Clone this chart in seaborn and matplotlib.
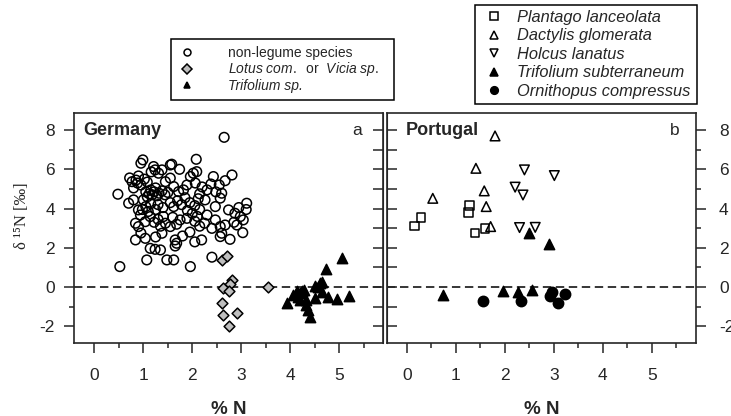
import pandas as pd
import matplotlib
matplotlib.use("Agg")
import matplotlib.pyplot as plt
from matplotlib.lines import Line2D
from matplotlib.ticker import MultipleLocator
import seaborn as sns

# ---- Germany (panel a) ----
de_other_x = [2.65, 0.48, 0.52, 0.95, 1.16, 0.72, 0.77, 0.90, 1.24, 1.55, 1.74, 1.96, 2.06,
              0.70, 0.80, 1.00, 0.90, 0.94, 0.84, 0.90, 1.04, 1.14, 1.41, 1.55, 1.75, 1.89,
              0.84, 1.04, 1.14, 1.24, 1.35, 1.38, 1.65, 1.68, 1.65, 1.07, 1.48, 1.62, 1.96,
              2.08, 1.58, 2.43, 2.67, 2.81, 0.99, 1.21, 1.31, 1.38, 2.02, 2.09, 2.60, 2.57,
              3.11, 2.47, 2.26, 2.74, 2.87, 2.98, 3.04, 1.89, 1.82, 1.62, 1.72, 1.45, 1.55,
              3.03, 2.77, 2.57, 2.60, 2.19, 2.40, 2.30, 2.47, 2.40, 2.57, 2.67, 2.91,
              1.08, 1.12, 1.18, 1.22, 1.28, 1.32, 1.38, 1.44, 1.50, 1.15, 1.05, 1.25,
              0.85, 0.88, 0.95, 1.02, 1.08, 0.80,
              1.55, 1.62, 1.70, 1.78, 1.85, 1.95, 2.05, 2.12, 1.90, 2.00, 2.15,
              1.05, 1.15, 1.25, 1.30, 1.40, 1.10, 0.98,
              1.22, 1.30, 1.45, 1.60, 1.68, 1.35,
              2.20, 2.30, 2.38, 2.15, 2.48, 2.55,
              2.05, 2.15, 2.25, 2.10,
              1.80, 1.95, 2.05, 0.95, 1.25,
              3.10, 2.95, 2.85]
de_other_y = [7.63, 4.73, 1.04, 6.31, 5.87, 5.56, 5.37, 5.66, 5.97, 6.22, 6.00, 5.63, 5.30,
              4.27, 4.44, 4.44, 3.93, 3.67, 3.25, 3.08, 3.33, 3.59, 3.59, 3.08, 3.42, 3.50,
              2.40, 2.48, 1.97, 1.92, 1.89, 2.74, 2.40, 2.23, 2.09, 1.38, 1.38, 1.38, 1.04,
              6.51, 6.26, 5.63, 5.42, 5.71, 6.48, 6.14, 5.80, 5.97, 5.80, 5.88, 4.78, 4.53,
              4.27, 4.10, 4.44, 3.93, 3.76, 3.59, 3.42, 5.20, 4.95, 5.12, 4.86, 5.37, 5.55,
              2.77, 2.43, 2.57, 2.74, 2.40, 1.52, 3.67, 3.42, 2.99, 3.08, 3.16, 3.16,
              4.60, 4.75, 4.70, 4.85, 4.65, 4.78, 4.90, 4.70, 4.82, 4.95, 4.85, 5.05,
              5.45, 5.30, 5.20, 5.50, 5.35, 5.05,
              4.30, 4.10, 4.40, 4.20, 4.55, 4.30, 4.15, 4.50, 3.90, 3.75, 3.95,
              4.10, 4.25, 3.95, 4.20, 4.05, 3.85, 3.95,
              3.30, 3.45, 3.25, 3.55, 3.20, 3.10,
              5.10, 4.95, 5.25, 4.75, 4.85, 5.20,
              3.35, 3.10, 3.25, 3.60,
              2.60, 2.80, 2.30, 2.75, 2.55,
              3.95, 4.05, 3.30]

de_lotus_x = [2.60, 2.70, 2.81, 2.77, 2.62, 2.74, 3.55, 2.60, 2.62, 2.92, 2.74]
de_lotus_y = [1.38, 1.58, 0.36, 0.15, -0.07, -0.19, 0.02, -0.83, -1.43, -1.31, -1.99]

de_trif_x = [5.05, 4.73, 4.61, 4.64, 4.50, 4.57, 4.13, 4.06, 4.23, 4.28, 3.94, 4.16, 4.20,
             4.32, 4.33, 4.37, 4.40, 4.50, 4.64, 4.77, 4.96, 5.20, 4.20]
de_trif_y = [1.46, 0.90, 0.19, 0.27, 0.05, -0.02, -0.19, -0.41, -0.19, -0.15, -0.80, -0.49, -0.66,
             -0.66, -0.92, -1.17, -1.51, -0.58, -0.24, -0.49, -0.63, -0.46, -0.32]

# ---- Portugal (panel b) ----
pt_plantago_x = [0.16, 0.29, 1.28, 1.26, 1.39, 1.60]
pt_plantago_y = [3.11, 3.54, 4.15, 3.79, 2.74, 2.99]
pt_dactylis_x = [1.80, 1.41, 0.53, 1.58, 1.62, 1.71]
pt_dactylis_y = [7.70, 6.05, 4.52, 4.90, 4.10, 3.08]
pt_holcus_x = [2.40, 3.01, 2.21, 2.37, 2.30, 2.62]
pt_holcus_y = [5.97, 5.68, 5.09, 4.69, 3.03, 3.04]
pt_trif_x = [2.50, 2.90, 0.73, 1.96, 2.26, 2.56]
pt_trif_y = [2.74, 2.18, -0.41, -0.20, -0.24, -0.15]
pt_orni_x = [1.55, 2.34, 2.96, 2.92, 3.08, 3.23]
pt_orni_y = [-0.71, -0.71, -0.24, -0.46, -0.80, -0.37]

de_labels = ["non-legume species", r"$\mathit{Lotus\ com.}$  or  $\mathit{Vicia\ sp.}$", "Trifolium sp."]
pt_labels = ["Plantago lanceolata", "Dactylis glomerata", "Holcus lanatus",
             "Trifolium subterraneum", "Ornithopus compressus"]

df_de = pd.concat([
    pd.DataFrame({"N": de_other_x, "d15N": de_other_y, "group": de_labels[0]}),
    pd.DataFrame({"N": de_lotus_x, "d15N": de_lotus_y, "group": de_labels[1]}),
    pd.DataFrame({"N": de_trif_x, "d15N": de_trif_y, "group": de_labels[2]}),
])
df_pt = pd.concat([
    pd.DataFrame({"N": pt_plantago_x, "d15N": pt_plantago_y, "group": pt_labels[0]}),
    pd.DataFrame({"N": pt_dactylis_x, "d15N": pt_dactylis_y, "group": pt_labels[1]}),
    pd.DataFrame({"N": pt_holcus_x, "d15N": pt_holcus_y, "group": pt_labels[2]}),
    pd.DataFrame({"N": pt_trif_x, "d15N": pt_trif_y, "group": pt_labels[3]}),
    pd.DataFrame({"N": pt_orni_x, "d15N": pt_orni_y, "group": pt_labels[4]}),
])

# marker, face colour, size
styles = {
    de_labels[0]: ("o", "none", 48),
    de_labels[1]: ("D", "#bebebe", 30),
    de_labels[2]: ("^", "black", 55),
    pt_labels[0]: ("s", "none", 36),
    pt_labels[1]: ("^", "none", 48),
    pt_labels[2]: ("v", "none", 48),
    pt_labels[3]: ("^", "black", 55),
    pt_labels[4]: ("o", "black", 55),
}

sns.set_style("ticks")
plt.rcParams["font.family"] = ["Liberation Sans", "DejaVu Sans"]
plt.rcParams["mathtext.fontset"] = "custom"
plt.rcParams["mathtext.rm"] = "Liberation Sans"
plt.rcParams["mathtext.it"] = "Liberation Sans:italic"
plt.rcParams["axes.unicode_minus"] = False

W, H = 731, 416
fig = plt.figure(figsize=(W / 100, H / 100), dpi=100)
bot, top = 343.3, 113
ax1 = fig.add_axes([74.3 / W, (H - bot) / H, (383.3 - 74.3) / W, (bot - top) / H])
ax2 = fig.add_axes([386.7 / W, (H - bot) / H, (696 - 386.7) / W, (bot - top) / H])


def draw(ax, df, groups):
    for g in groups:
        m, fc, s = styles[g]
        sub = df[df["group"] == g]
        sns.scatterplot(data=sub, x="N", y="d15N", ax=ax, marker=m, s=s,
                        facecolor=fc, edgecolor="black", linewidth=1.1, legend=False)
    ax.axhline(0, color="black", lw=1.1, ls=(0, (5.5, 3)), zorder=0)
    ax.set_xlim(-0.41, 5.9)
    ax.set_ylim(-2.87, 8.87)
    ax.set_xticks(range(6))
    ax.xaxis.set_minor_locator(MultipleLocator(0.5))
    ax.set_yticks([-2, 0, 2, 4, 6, 8])
    ax.yaxis.set_minor_locator(MultipleLocator(1))
    ax.tick_params(axis="x", which="major", length=7, width=1.1, pad=11, labelsize=12.5)
    ax.tick_params(axis="x", which="minor", length=3.5, width=1.1)
    ax.set_xlabel("% N", fontsize=13.5, fontweight="bold", labelpad=13)
    ax.set_ylabel("")
    for sp in ax.spines.values():
        sp.set_linewidth(1.2)


draw(ax1, df_de, de_labels)
draw(ax2, df_pt, pt_labels)

# panel a: labels on the left, inward ticks on the right
ax1.tick_params(axis="y", which="major", length=7, width=1.1, pad=7, labelsize=12.5)
ax1.tick_params(axis="y", which="minor", length=3.5, width=1.1)
sec1 = ax1.secondary_yaxis("right")
sec1.set_yticks([-2, 0, 2, 4, 6, 8])
sec1.yaxis.set_minor_locator(MultipleLocator(1))
sec1.tick_params(which="both", direction="in", length=7, width=1.1, labelright=False)

# panel b: labels on the right, inward ticks on the left
ax2.yaxis.tick_right()
ax2.tick_params(axis="y", which="major", length=7, width=1.1, pad=9.5, labelsize=12.5)
ax2.tick_params(axis="y", which="minor", length=3.5, width=1.1)
sec2 = ax2.secondary_yaxis("left")
sec2.set_yticks([-2, 0, 2, 4, 6, 8])
sec2.yaxis.set_minor_locator(MultipleLocator(1))
sec2.tick_params(which="both", direction="in", length=7, width=1.1, labelleft=False)

ax1.text(-0.22, 8.0, "Germany", fontsize=13, fontweight="bold", va="center", ha="left")
ax1.text(5.46, 8.0, "a", fontsize=12.5, va="center", ha="right")
ax2.text(-0.03, 8.0, "Portugal", fontsize=13, fontweight="bold", va="center", ha="left")
ax2.text(5.56, 8.0, "b", fontsize=12.5, va="center", ha="right")

fig.text(22 / W, 1 - 216 / H, "δ ¹⁵N [‰]", rotation=90, ha="center", va="center",
         fontsize=12, family=["Liberation Serif", "DejaVu Serif"])


def handles_for(groups, ms):
    hs = []
    for g in groups:
        m, fc, s = styles[g]
        hs.append(Line2D([], [], ls="", marker=m, markersize=ms,
                         markerfacecolor=fc, markeredgecolor="black", markeredgewidth=1.1))
    return hs


leg_kw = dict(frameon=True, fancybox=False, edgecolor="black", framealpha=1,
              borderaxespad=0, mode="expand")
leg1 = fig.legend(handles_for(de_labels, 5), de_labels, loc="lower left",
                  bbox_to_anchor=(171 / W, (H - 100) / H, (394 - 171) / W, 0.01),
                  fontsize=10, borderpad=0.5, handlelength=1.3, handletextpad=2.3,
                  labelspacing=0.05, **leg_kw)
leg2 = fig.legend(handles_for(pt_labels, 5.5), pt_labels, loc="lower left",
                  bbox_to_anchor=(475 / W, (H - 104) / H, (697 - 475) / W, 0.01),
                  fontsize=11.8, borderpad=0.3, handlelength=1.68, handletextpad=0.6,
                  labelspacing=0.22, **leg_kw)
for leg in (leg1, leg2):
    leg.get_frame().set_linewidth(1.1)
for t in leg1.get_texts()[2:]:
    t.set_style("italic")
for t in leg2.get_texts():
    t.set_style("italic")

plt.savefig("out.png", dpi=100)
